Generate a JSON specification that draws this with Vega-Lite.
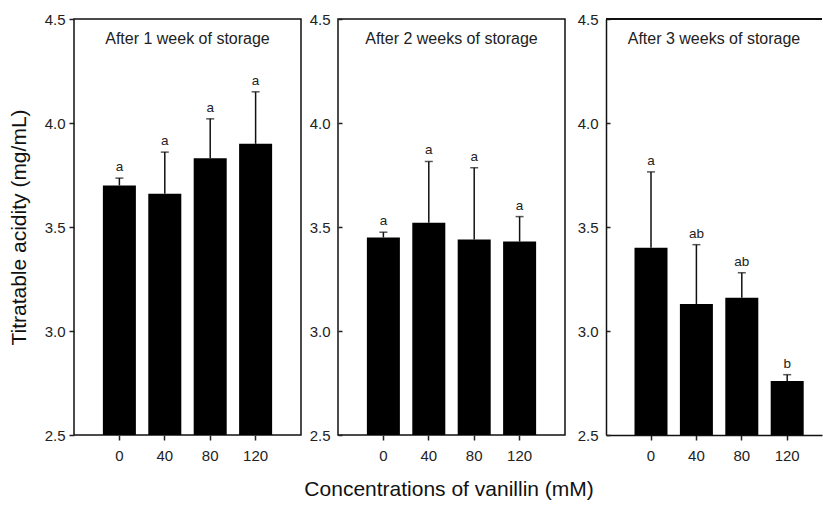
{
  "$schema": "https://vega.github.io/schema/vega-lite/v6.json",
  "padding": {"left": 7, "top": 11, "right": 0, "bottom": 0},
  "autosize": {"type": "pad"},
  "title": {"text": "Concentrations of vanillin (mM)", "orient": "bottom", "anchor": "middle", "frame": "bounds", "fontSize": 21, "color": "#111", "baseline": "top", "offset": 15, "dx": 34},
  "datasets": {
    "d": [
      {"week": 1, "conc": 0, "mean": 3.70, "upper": 3.735, "letter": "a"},
      {"week": 1, "conc": 40, "mean": 3.66, "upper": 3.86, "letter": "a"},
      {"week": 1, "conc": 80, "mean": 3.83, "upper": 4.02, "letter": "a"},
      {"week": 1, "conc": 120, "mean": 3.90, "upper": 4.15, "letter": "a"},
      {"week": 2, "conc": 0, "mean": 3.45, "upper": 3.475, "letter": "a"},
      {"week": 2, "conc": 40, "mean": 3.52, "upper": 3.815, "letter": "a"},
      {"week": 2, "conc": 80, "mean": 3.44, "upper": 3.785, "letter": "a"},
      {"week": 2, "conc": 120, "mean": 3.43, "upper": 3.55, "letter": "a"},
      {"week": 3, "conc": 0, "mean": 3.40, "upper": 3.765, "letter": "a"},
      {"week": 3, "conc": 40, "mean": 3.13, "upper": 3.415, "letter": "ab"},
      {"week": 3, "conc": 80, "mean": 3.16, "upper": 3.28, "letter": "ab"},
      {"week": 3, "conc": 120, "mean": 2.76, "upper": 2.79, "letter": "b"}
    ]
  },
  "config": {
    "font": "Liberation Sans",
    "view": {"stroke": "#111", "strokeWidth": 1.5},
    "axis": {"labelFont": "Liberation Sans", "labelFontSize": 15, "labelColor": "#222", "tickColor": "#222", "tickWidth": 1.5, "domain": false, "grid": false, "titleFont": "Liberation Sans", "titleFontWeight": "normal", "titleColor": "#111"},
    "title": {"font": "Liberation Sans", "fontSize": 16, "fontWeight": "normal", "color": "#222", "anchor": "middle", "frame": "group", "offset": -35, "baseline": "alphabetic"}
  },
  "spacing": 4,
  "hconcat": [
    {
      "width": 227, "height": 416,
      "title": "After 1 week of storage",
      "data": {"name": "d"},
      "transform": [{"filter": "datum.week == 1"}],
      "encoding": {
        "x": {"field": "conc", "type": "ordinal", "sort": [0, 40, 80, 120], "scale": {"paddingInner": 0.273, "paddingOuter": 0.636}, "axis": {"labelAngle": 0, "title": null, "tickSize": 5, "labelPadding": 8}}
      },
      "layer": [
        {"mark": {"type": "bar", "color": "#000"}, "encoding": {"y": {"field": "mean", "type": "quantitative", "scale": {"domain": [2.5, 4.5], "zero": false, "nice": false}, "axis": {"values": [2.5, 3, 3.5, 4, 4.5], "format": ".1f", "tickSize": 5, "labelPadding": 4, "titleFontSize": 21, "titlePadding": 15}, "title": "Titratable acidity (mg/mL)"}, "y2": {"datum": 2.5}}},
        {"mark": {"type": "rule", "color": "#111", "strokeWidth": 1.5}, "encoding": {"y": {"field": "mean", "type": "quantitative", "title": "Titratable acidity (mg/mL)"}, "y2": {"field": "upper"}}},
        {"mark": {"type": "tick", "orient": "horizontal", "size": 8, "thickness": 1.5, "color": "#111"}, "encoding": {"y": {"field": "upper", "type": "quantitative", "title": "Titratable acidity (mg/mL)"}}},
        {"mark": {"type": "text", "baseline": "bottom", "dy": -4, "fontSize": 13.5, "color": "#222"}, "encoding": {"y": {"field": "upper", "type": "quantitative", "title": "Titratable acidity (mg/mL)"}, "text": {"field": "letter"}}}
      ]
    },
    {
      "spacing": 9,
      "hconcat": [
        {
          "width": 227, "height": 416,
          "title": "After 2 weeks of storage",
          "data": {"name": "d"},
          "transform": [{"filter": "datum.week == 2"}],
          "encoding": {
            "x": {"field": "conc", "type": "ordinal", "sort": [0, 40, 80, 120], "scale": {"paddingInner": 0.273, "paddingOuter": 0.636}, "axis": {"labelAngle": 0, "title": null, "tickSize": 5, "labelPadding": 8}}
          },
          "layer": [
            {"mark": {"type": "bar", "color": "#000"}, "encoding": {"y": {"field": "mean", "type": "quantitative", "scale": {"domain": [2.5, 4.5], "zero": false, "nice": false}, "axis": {"values": [2.5, 3, 3.5, 4, 4.5], "format": ".1f", "tickSize": -4, "labelPadding": 12, "minExtent": 31, "maxExtent": 31}, "title": null}, "y2": {"datum": 2.5}}},
            {"mark": {"type": "rule", "color": "#111", "strokeWidth": 1.5}, "encoding": {"y": {"field": "mean", "type": "quantitative", "title": null}, "y2": {"field": "upper"}}},
            {"mark": {"type": "tick", "orient": "horizontal", "size": 8, "thickness": 1.5, "color": "#111"}, "encoding": {"y": {"field": "upper", "type": "quantitative", "title": null}}},
            {"mark": {"type": "text", "baseline": "bottom", "dy": -4, "fontSize": 13.5, "color": "#222"}, "encoding": {"y": {"field": "upper", "type": "quantitative", "title": null}, "text": {"field": "letter"}}}
          ]
        },
        {
          "width": 216, "height": 416,
          "view": {"stroke": null},
          "title": "After 3 weeks of storage",
          "data": {"name": "d"},
          "transform": [{"filter": "datum.week == 3"}],
          "encoding": {
            "x": {"field": "conc", "type": "ordinal", "sort": [0, 40, 80, 120], "scale": {"paddingInner": 0.273, "paddingOuter": 0.5155, "align": 0.609}, "axis": {"labelAngle": 0, "title": null, "tickSize": 5, "labelPadding": 8, "domain": true, "domainColor": "#111", "domainWidth": 1.5}}
          },
          "layer": [
            {"mark": {"type": "bar", "color": "#000"}, "encoding": {"y": {"field": "mean", "type": "quantitative", "scale": {"domain": [2.5, 4.5], "zero": false, "nice": false}, "axis": {"values": [2.5, 3, 3.5, 4, 4.5], "format": ".1f", "tickSize": -4, "labelPadding": 12, "minExtent": 31, "maxExtent": 31, "domain": true, "domainColor": "#111", "domainWidth": 1.5}, "title": null}, "y2": {"datum": 2.5}}},
            {"mark": {"type": "rule", "color": "#111", "strokeWidth": 1.5}, "encoding": {"y": {"field": "mean", "type": "quantitative", "title": null}, "y2": {"field": "upper"}}},
            {"mark": {"type": "tick", "orient": "horizontal", "size": 8, "thickness": 1.5, "color": "#111"}, "encoding": {"y": {"field": "upper", "type": "quantitative", "title": null}}},
            {"mark": {"type": "text", "baseline": "bottom", "dy": -4, "fontSize": 13.5, "color": "#222"}, "encoding": {"y": {"field": "upper", "type": "quantitative", "title": null}, "text": {"field": "letter"}}},
            {"mark": {"type": "rule", "color": "#111", "strokeWidth": 1.5}, "encoding": {"x": null, "y": {"datum": 4.5, "type": "quantitative", "title": null}}}
          ]
        }
      ]
    }
  ]
}
